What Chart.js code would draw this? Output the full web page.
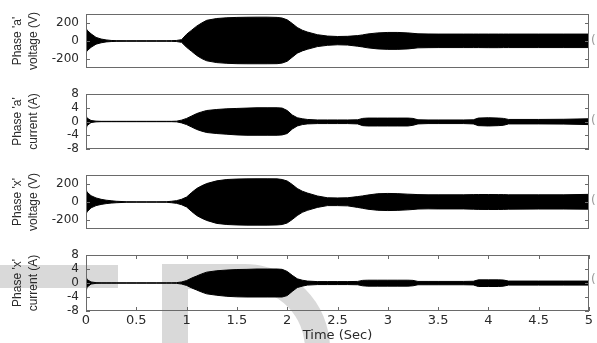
<!DOCTYPE html>
<html><head><meta charset="utf-8">
<script src="https://cdn.jsdelivr.net/npm/chart.js@4.4.0/dist/chart.umd.min.js"></script>
<style>
html,body{margin:0;padding:0;background:#fff;width:597px;height:343px;overflow:hidden;position:relative;}
.wm{position:absolute;background:#d9d9d9;}
canvas{position:absolute;left:0;}
.frag{position:absolute;left:591px;font:12px "DejaVu Sans";color:#999;}
</style></head><body>
<div class="wm" style="left:0;top:265px;width:118px;height:23px"></div>
<div class="wm" style="left:162px;top:264px;width:26px;height:79px"></div>
<div style="position:absolute;left:188px;top:264px;width:117px;height:140px;border:25px solid #d9d9d9;border-left:none;border-radius:0 85px 85px 0;"></div>
<canvas id="c1" width="597" height="80" style="top:1px"></canvas>
<canvas id="c2" width="597" height="81" style="top:81px"></canvas>
<canvas id="c3" width="597" height="80" style="top:162px"></canvas>
<canvas id="c4" width="597" height="101" style="top:242px"></canvas>
<div class="frag" style="top:33px">(</div>
<div class="frag" style="top:113px">(</div>
<div class="frag" style="top:193px">(</div>
<div class="frag" style="top:272px">(</div>
<script>
const T = [0,0.01,0.05,0.1,0.15,0.2,0.25,0.3,0.4,0.5,0.6,0.7,0.8,0.85,0.9,0.95,1.0,1.05,1.1,1.15,1.2,1.3,1.4,1.5,1.6,1.7,1.8,1.9,1.95,2.0,2.05,2.1,2.15,2.2,2.3,2.4,2.5,2.6,2.7,2.75,2.8,2.9,3.0,3.1,3.2,3.25,3.3,3.4,3.5,3.75,3.85,3.9,4.0,4.1,4.15,4.2,4.5,4.75,5.0];
const VA_HI = [150,120,80,40,22,12,6,4,3,3,3,3,3,4,6,15,75,120,165,200,230,250,258,262,264,265,265,262,255,235,195,150,120,100,70,55,50,52,60,68,78,90,95,95,90,85,80,78,77,77,77,77,77,77,77,77,77,77,77];
const VA_LO = [-130,-110,-70,-35,-20,-10,-6,-4,-3,-3,-3,-3,-3,-4,-6,-15,-70,-115,-160,-195,-220,-240,-248,-252,-253,-253,-253,-252,-245,-225,-180,-135,-110,-92,-62,-48,-42,-45,-58,-66,-76,-88,-93,-93,-88,-82,-76,-74,-73,-73,-73,-73,-74,-74,-73,-73,-73,-73,-73];
const IA_HI = [2.0,1.0,0.3,0.1,0.05,0.05,0.05,0.05,0.05,0.05,0.05,0.05,0.05,0.05,0.1,0.4,0.9,1.6,2.3,2.8,3.2,3.5,3.7,3.8,3.9,4.0,4.0,4.0,3.9,3.2,1.9,1.1,0.8,0.6,0.45,0.45,0.45,0.45,0.5,0.9,1.0,1.0,1.0,1.0,1.0,0.9,0.5,0.45,0.45,0.45,0.5,1.0,1.1,1.0,0.9,0.6,0.6,0.65,0.8];
const IA_LO = [-2.5,-1.2,-0.3,-0.1,-0.05,-0.05,-0.05,-0.05,-0.05,-0.05,-0.05,-0.05,-0.05,-0.05,-0.1,-0.4,-0.9,-1.6,-2.3,-2.8,-3.2,-3.5,-3.7,-3.9,-4.0,-4.0,-4.0,-4.0,-3.9,-3.5,-2.2,-1.3,-0.9,-0.7,-0.6,-0.6,-0.6,-0.6,-0.7,-1.2,-1.3,-1.3,-1.3,-1.3,-1.3,-1.1,-0.7,-0.6,-0.6,-0.6,-0.7,-1.2,-1.3,-1.2,-1.1,-0.7,-0.7,-0.75,-0.9];
const VX_HI = [150,110,70,45,30,20,14,8,3,2,2,2,3,8,15,30,55,105,150,180,205,235,250,255,257,258,258,257,250,233,195,150,120,100,67,47,45,47,60,68,77,92,95,93,87,85,82,80,80,80,82,83,83,82,82,80,80,80,85];
const VX_LO = [-140,-110,-65,-40,-27,-18,-12,-8,-3,-2,-2,-2,-3,-8,-15,-30,-55,-105,-150,-180,-205,-238,-250,-255,-257,-257,-257,-255,-250,-233,-195,-150,-115,-93,-60,-40,-40,-43,-60,-70,-80,-92,-95,-93,-87,-83,-78,-76,-77,-77,-80,-82,-83,-83,-82,-80,-78,-78,-80];
const IX_HI = [2.0,1.0,0.3,0.1,0.05,0.05,0.05,0.05,0.05,0.05,0.05,0.05,0.05,0.05,0.1,0.3,0.7,1.4,2.0,2.6,3.1,3.5,3.7,3.85,3.9,4.0,4.0,4.0,3.9,3.3,2.2,1.2,0.8,0.55,0.4,0.4,0.4,0.4,0.45,0.75,0.8,0.8,0.8,0.8,0.8,0.75,0.45,0.45,0.45,0.45,0.5,0.9,0.9,0.9,0.85,0.55,0.55,0.55,0.55];
const IX_LO = [-2.7,-1.2,-0.3,-0.1,-0.05,-0.05,-0.05,-0.05,-0.05,-0.05,-0.05,-0.05,-0.05,-0.05,-0.1,-0.3,-0.7,-1.4,-2.0,-2.6,-3.1,-3.5,-3.8,-3.95,-4.0,-4.0,-4.0,-4.0,-4.0,-3.6,-2.4,-1.3,-0.9,-0.6,-0.45,-0.45,-0.45,-0.45,-0.5,-0.8,-0.9,-0.9,-0.9,-0.9,-0.9,-0.8,-0.5,-0.5,-0.5,-0.5,-0.55,-1.0,-1.0,-1.0,-0.9,-0.6,-0.6,-0.6,-0.6];
const V_TICKS = [-200, 0, 200];
const I_TICKS = [-8, -4, 0, 4, 8];
const X_TICKS = [0, 0.5, 1, 1.5, 2, 2.5, 3, 3.5, 4, 4.5, 5];
const Y_TITLES = [["Phase 'a'", "voltage (V)"], ["Phase 'a'", "current (A)"], ["Phase 'x'", "voltage (V)"], ["Phase 'x'", "current (A)"]];
const X_TITLE = 'Time (Sec)';

const boxTicks = {
  id: 'boxTicks',
  afterDatasetsDraw(chart) {
    const {ctx, chartArea: a, scales} = chart;
    const len = 4;
    ctx.save();
    ctx.strokeStyle = '#6a6a6a';
    ctx.lineWidth = 1;
    ctx.strokeRect(a.left + 0.5, a.top + 0.5, a.right - a.left - 1, a.bottom - a.top - 1);
    ctx.beginPath();
    scales.y.ticks.forEach(t => {
      const y = Math.round(scales.y.getPixelForValue(t.value)) + 0.5;
      ctx.moveTo(a.left, y); ctx.lineTo(a.left + len, y);
      ctx.moveTo(a.right - len, y); ctx.lineTo(a.right, y);
    });
    if (scales.x.options.display) {
      scales.x.ticks.forEach(t => {
        const x = Math.round(scales.x.getPixelForValue(t.value)) + 0.5;
        ctx.moveTo(x, a.top); ctx.lineTo(x, a.top + len);
        ctx.moveTo(x, a.bottom - len); ctx.lineTo(x, a.bottom);
      });
    }
    ctx.stroke();
    ctx.restore();
  }
};

function makeChart(id, hi, lo, yLim, yTicks, yTitle, showX) {
  const pts = arr => T.map((t, i) => ({x: t, y: arr[i]}));
  return new Chart(document.getElementById(id), {
    type: 'line',
    data: {datasets: [
      {data: pts(hi), borderColor: '#000', backgroundColor: '#000', borderWidth: 1, pointRadius: 0, fill: '+1', tension: 0},
      {data: pts(lo), borderColor: '#000', backgroundColor: '#000', borderWidth: 1, pointRadius: 0, fill: false, tension: 0}
    ]},
    options: {
      responsive: false, animation: false, events: [],
      layout: {padding: {left: 0, right: 8, top: 10, bottom: showX ? 0 : 10}},
      plugins: {legend: {display: false}, tooltip: {enabled: false}},
      scales: {
        x: {
          type: 'linear', min: 0, max: 5, display: showX,
          grid: {display: false, drawTicks: false}, border: {display: false},
          afterBuildTicks: s => { s.ticks = X_TICKS.map(v => ({value: v})); },
          afterFit: s => { s.height = showX ? 32 : 0; },
          ticks: {padding: 3, color: '#2a2a2a', autoSkip: false, maxRotation: 0,
                  font: {family: 'DejaVu Sans', size: 13, lineHeight: 1}, callback: v => String(v)},
          title: {display: true, text: X_TITLE, color: '#2a2a2a', padding: 0,
                  font: {family: 'DejaVu Sans', size: 13, lineHeight: 14 / 13}}
        },
        y: {
          min: -yLim, max: yLim,
          grid: {display: false, drawTicks: false}, border: {display: false},
          afterBuildTicks: s => { s.ticks = yTicks.map(v => ({value: v})); },
          afterFit: s => { s.width = 86; },
          ticks: {padding: 7, color: '#2a2a2a', autoSkip: false, font: {family: 'DejaVu Sans', size: 12, lineHeight: 1}, callback: v => String(v)},
          title: {display: true, text: yTitle, color: '#2a2a2a', padding: {top: 9.5, bottom: 0},
                  font: {family: 'Liberation Sans', size: 12, lineHeight: 16 / 12}}
        }
      }
    },
    plugins: [boxTicks]
  });
}

makeChart('c1', VA_HI, VA_LO, 300, V_TICKS, Y_TITLES[0], false);
makeChart('c2', IA_HI, IA_LO, 8, I_TICKS, Y_TITLES[1], false);
makeChart('c3', VX_HI, VX_LO, 300, V_TICKS, Y_TITLES[2], false);
makeChart('c4', IX_HI, IX_LO, 8, I_TICKS, Y_TITLES[3], true);
</script>
</body></html>
